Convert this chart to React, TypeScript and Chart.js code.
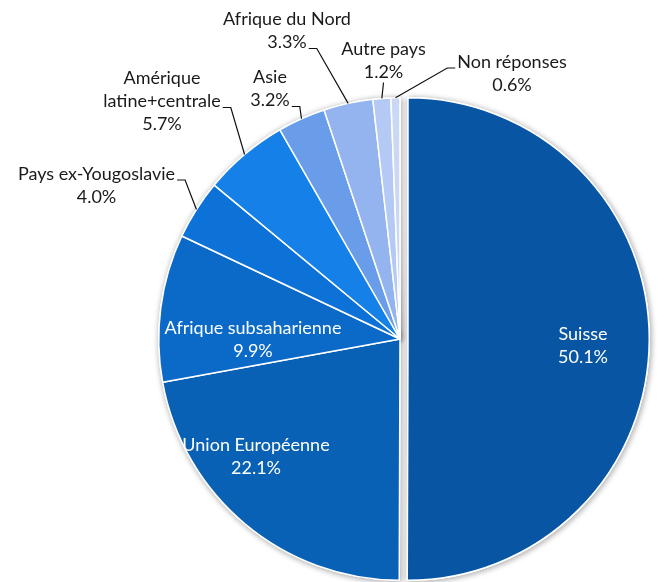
import React, { useEffect, useRef } from "react";
import { Chart, registerables } from "chart.js";

Chart.register(...registerables);

// ---- Data ----
const categories = [
  "Suisse",
  "Union Européenne",
  "Afrique subsaharienne",
  "Pays ex-Yougoslavie",
  "Amérique latine+centrale",
  "Asie",
  "Afrique du Nord",
  "Autre pays",
  "Non réponses",
];
const labelLines = [
  ["Suisse"],
  ["Union Européenne"],
  ["Afrique subsaharienne"],
  ["Pays ex-Yougoslavie"],
  ["Amérique", "latine+centrale"],
  ["Asie"],
  ["Afrique du Nord"],
  ["Autre pays"],
  ["Non réponses"],
];
const shares = [50.1, 22.1, 9.9, 4.0, 5.7, 3.2, 3.3, 1.2, 0.6];

// ---- Styles ----
const sliceColors = [
  "#0755A3",
  "#0961B5",
  "#0B6AC7",
  "#0D72D8",
  "#1580E8",
  "#6A9DE9",
  "#93B4EF",
  "#B4C9F3",
  "#CBD8F5",
];

type Layout = {
  dx: number;
  dy: number;
  inside: boolean;
  lead?: "right" | "left" | "bottom";
  leadLine?: number;
};
// label block centre relative to pie centre (px)
const labelLayout: Layout[] = [
  { dx: 183, dy: 6.5, inside: true },
  { dx: -144, dy: 118, inside: true },
  { dx: -147, dy: 0.5, inside: true },
  { dx: -303.5, dy: -153.5, inside: false, lead: "right", leadLine: 0 },
  { dx: -238, dy: -237.5, inside: false, lead: "right", leadLine: 1 },
  { dx: -130, dy: -250, inside: false, lead: "right", leadLine: 1 },
  { dx: -113, dy: -308, inside: false, lead: "right", leadLine: 1 },
  { dx: -16.5, dy: -278, inside: false, lead: "bottom" },
  { dx: 112, dy: -265.5, inside: false, lead: "left", leadLine: 0 },
];

const EXPLODE = 8;
const FONT = '18px Lato';
const LINE_H = 23;

const pieExtras = {
  id: "pieExtras",
  afterDatasetsUpdate(chart: any) {
    const meta = chart.getDatasetMeta(0);
    const el: any = meta.data[0];
    if (el && !el.__exploded) {
      const orig = el.draw;
      el.draw = function (ctx: CanvasRenderingContext2D, ...rest: any[]) {
        const mid = (this.startAngle + this.endAngle) / 2;
        ctx.save();
        ctx.translate(Math.cos(mid) * EXPLODE, Math.sin(mid) * EXPLODE);
        orig.call(this, ctx, ...rest);
        ctx.restore();
      };
      el.__exploded = true;
    }
  },
  beforeDatasetsDraw(chart: any) {
    const ctx: CanvasRenderingContext2D = chart.ctx;
    const meta = chart.getDatasetMeta(0);
    ctx.save();
    ctx.shadowColor = "rgba(0,0,0,0.35)";
    ctx.shadowBlur = 6;
    ctx.shadowOffsetX = 1;
    ctx.shadowOffsetY = 1;
    meta.data.forEach((el: any) => el.draw(ctx, chart.chartArea));
    ctx.restore();
  },
  afterDatasetsDraw(chart: any) {
    const ctx: CanvasRenderingContext2D = chart.ctx;
    const meta = chart.getDatasetMeta(0);
    ctx.save();
    ctx.font = FONT;
    ctx.textAlign = "center";
    ctx.textBaseline = "middle";
    meta.data.forEach((el: any, i: number) => {
      const { x, y, outerRadius, startAngle, endAngle } = el.getProps(
        ["x", "y", "outerRadius", "startAngle", "endAngle"],
        true
      );
      const L = labelLayout[i];
      const lines = [...labelLines[i], shares[i].toFixed(1) + "%"];
      const bx = x + L.dx;
      const by = y + L.dy;
      const top = by - ((lines.length - 1) * LINE_H) / 2;
      ctx.fillStyle = L.inside ? "#ffffff" : "#1a1a1a";
      lines.forEach((t, k) => ctx.fillText(t, bx, top + k * LINE_H));
      if (L.lead) {
        const mid = (startAngle + endAngle) / 2;
        const ex = x + Math.cos(mid) * outerRadius;
        const ey = y + Math.sin(mid) * outerRadius;
        ctx.strokeStyle = "#111";
        ctx.lineWidth = 1.2;
        ctx.beginPath();
        if (L.lead === "bottom") {
          const sy = top + (lines.length - 1) * LINE_H + 10;
          ctx.moveTo(bx, sy);
          ctx.lineTo(ex, ey);
        } else {
          const li = L.leadLine ?? 0;
          const ly = top + li * LINE_H + 6;
          const w = ctx.measureText(lines[li]).width;
          const dir = L.lead === "right" ? 1 : -1;
          const sx = bx + dir * (w / 2 + 2);
          ctx.moveTo(sx, ly);
          ctx.lineTo(sx + dir * 8, ly);
          ctx.lineTo(ex, ey);
        }
        ctx.stroke();
      }
    });
    ctx.restore();
  },
};

export default function App() {
  const ref = useRef<HTMLCanvasElement | null>(null);
  useEffect(() => {
    if (!ref.current) return;
    const chart = new Chart(ref.current, {
      type: "pie",
      data: {
        labels: categories,
        datasets: [
          {
            data: shares,
            backgroundColor: sliceColors,
            borderColor: "#ffffff",
            borderWidth: 1.5,
            hoverOffset: 0,
          },
        ],
      },
      options: {
        responsive: false,
        animation: false,
        events: [],
        layout: { padding: { left: 158, top: 97, right: 17, bottom: 1 } },
        plugins: {
          legend: { display: false },
          tooltip: { enabled: false },
        },
      },
      plugins: [pieExtras],
    });
    return () => chart.destroy();
  }, []);
  return (
    <div style={{ position: "fixed", left: 0, top: 0, width: 659, height: 582, background: "#fff" }}>
      <canvas ref={ref} width={659} height={582} style={{ display: "block" }} />
    </div>
  );
}
